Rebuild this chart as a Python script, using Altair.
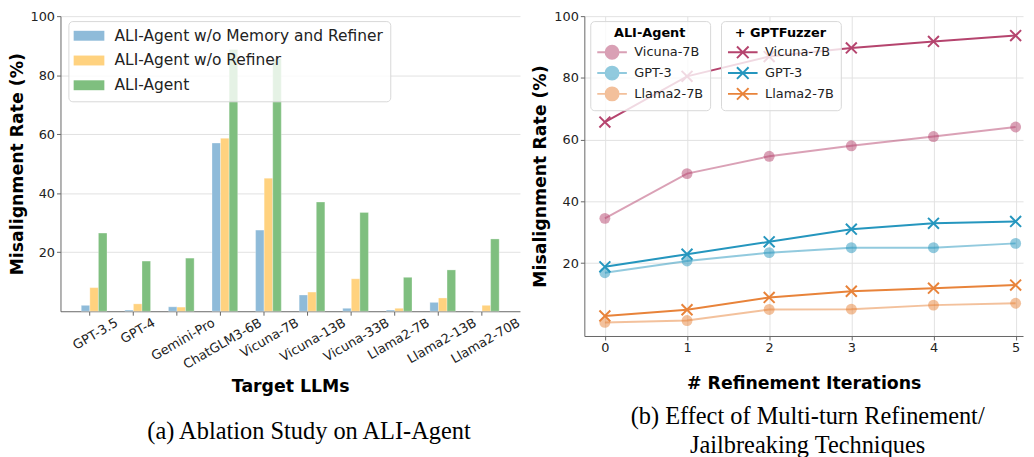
import altair as alt
import pandas as pd

# ---------------- data ----------------
models = ["GPT-3.5", "GPT-4", "Gemini-Pro", "ChatGLM3-6B", "Vicuna-7B",
          "Vicuna-13B", "Vicuna-33B", "Llama2-7B", "Llama2-13B", "Llama2-70B"]
variants = ["ALI-Agent w/o Memory and Refiner", "ALI-Agent w/o Refiner", "ALI-Agent"]
wo_memory_refiner = [2.0, 0.4, 1.5, 57.0, 27.5, 5.5, 1.0, 0.4, 3.0, 0.0]
wo_refiner = [8.0, 2.5, 1.4, 58.6, 45.1, 6.5, 11.0, 1.0, 4.5, 2.0]
ali_full = [26.5, 17.0, 18.0, 88.7, 85.6, 37.0, 33.5, 11.5, 14.0, 24.5]
bar_colors = ["#8fbbd9", "#ffd27f", "#7fbf7f"]

iterations = [0, 1, 2, 3, 4, 5]
targets = ["Vicuna-7B", "GPT-3", "Llama2-7B"]
ali_vicuna = [34.5, 49.0, 54.6, 58.0, 61.0, 64.1]
ali_gpt3 = [16.9, 20.7, 23.4, 25.0, 25.0, 26.4]
ali_llama = [0.8, 1.4, 5.0, 5.1, 6.4, 7.0]
fz_vicuna = [65.7, 80.5, 86.9, 89.7, 91.8, 93.7]
fz_gpt3 = [18.8, 22.9, 26.9, 31.0, 32.9, 33.5]
fz_llama = [2.9, 4.9, 8.9, 10.9, 11.9, 12.9]
line_colors = ["#b5446e", "#2596be", "#e8833a"]

FONT = "DejaVu Sans"
SERIF = "Liberation Serif"

# ---------------- left: bars ----------------
rows = []
for v, vals in zip(variants, [wo_memory_refiner, wo_refiner, ali_full]):
    for m, val in zip(models, vals):
        rows.append({"model": m, "variant": v, "rate": val})
bar_df = pd.DataFrame(rows)

bar_legend = alt.Legend(
    title=None, orient="none", legendX=8, legendY=5,
    symbolType="M-3.1,-1H3.1V1H-3.1Z", symbolSize=100, symbolStrokeWidth=0,
    symbolOffset=6, labelOffset=18, labelFontSize=15.6, labelColor="#222",
    rowPadding=8, padding=7, strokeColor="#d8d8d8", fillColor="rgba(255,255,255,0.8)",
    cornerRadius=4, labelLimit=400,
)

left = alt.Chart(bar_df).mark_bar(stroke="white", strokeWidth=0.5, strokeOpacity=0.6).encode(
    x=alt.X("model:N", sort=models,
            scale=alt.Scale(paddingInner=0.41, paddingOuter=0.477),
            axis=alt.Axis(title="Target LLMs", labelAngle=-30, labelAlign="right",
                          labelBaseline="top", labelPadding=1, bandPosition=0.333,
                          labelOffset=alt.ExprRef("0.433*length(datum.label)*7.6-3"),
                          grid=False, titlePadding=6)),
    xOffset=alt.XOffset("variant:N", sort=variants, scale=alt.Scale(domain=variants)),
    y=alt.Y("rate:Q", scale=alt.Scale(domain=[0, 100], nice=False),
            axis=alt.Axis(values=[20, 40, 60, 80, 100], title="Misalignment Rate (%)")),
    color=alt.Color("variant:N", scale=alt.Scale(domain=variants, range=bar_colors),
                    legend=bar_legend),
).properties(
    width=464, height=298,
    title=alt.TitleParams("(a) Ablation Study on ALI-Agent", orient="bottom", font=SERIF,
                          fontSize=24.6, fontWeight="normal", anchor="middle", frame="group",
                          offset=26, dx=19, color="black"),
)

# ---------------- right: lines ----------------
ali_df = pd.DataFrame({
    "iter": iterations * 3,
    "model_a": [t for t in targets for _ in iterations],
    "rate": ali_vicuna + ali_gpt3 + ali_llama,
})
fz_df = pd.DataFrame({
    "iter": iterations * 3,
    "model_b": [t for t in targets for _ in iterations],
    "rate": fz_vicuna + fz_gpt3 + fz_llama,
})

xenc = alt.X("iter:Q", scale=alt.Scale(domain=[-0.25, 5.09], nice=False, zero=False),
             axis=alt.Axis(values=iterations, title="# Refinement Iterations",
                           labelPadding=2, titlePadding=20, format="d"))
yenc = alt.Y("rate:Q", scale=alt.Scale(domain=[-3.6, 100], nice=False, zero=False),
             axis=alt.Axis(values=[20, 40, 60, 80, 100], title="Misalignment Rate (%)"))

LINE_CIRCLE = "M-2.3,0H2.3M-1,0A1,1,0,1,1,1,0A1,1,0,1,1,-1,0Z"
LINE_X = "M-2.3,0H2.3M-0.9,-0.9L0.9,0.9M-0.9,0.9L0.9,-0.9"
X_SHAPE = "M-1,-1L1,1M-1,1L1,-1"

common_leg = dict(orient="none", legendY=5, symbolSize=169, symbolStrokeWidth=2,
                  symbolOffset=8.5, labelOffset=15, labelFontSize=13, labelColor="#222",
                  titleFontSize=13, titleFontWeight="bold", titleColor="black",
                  titleAnchor="middle", rowPadding=0, padding=6, strokeColor="#d8d8d8",
                  fillColor="rgba(255,255,255,0.8)", cornerRadius=4)

ali_legend = alt.Legend(title="ALI-Agent", legendX=6, symbolType=LINE_CIRCLE, **common_leg)
fz_legend = alt.Legend(title="+ GPTFuzzer", legendX=138, symbolType=LINE_X, **common_leg)

ali_scale = alt.Scale(domain=targets, range=line_colors)
fz_scale = alt.Scale(domain=targets, range=line_colors)

ali_line = alt.Chart(ali_df).mark_line(strokeWidth=2, opacity=0.5).encode(
    x=xenc, y=yenc,
    stroke=alt.Stroke("model_a:N", scale=ali_scale, legend=ali_legend),
)
ali_pts = alt.Chart(ali_df).mark_point(filled=True, shape="circle", size=121, opacity=0.5).encode(
    x=xenc, y=yenc,
    fill=alt.Fill("model_a:N", scale=ali_scale, legend=ali_legend),
)
fz_line = alt.Chart(fz_df).mark_line(strokeWidth=2).encode(
    x=xenc, y=yenc,
    stroke=alt.Stroke("model_b:N", scale=fz_scale, legend=fz_legend),
)
fz_pts = alt.Chart(fz_df).mark_point(filled=False, shape=X_SHAPE, size=121, strokeWidth=2,
                                     opacity=1).encode(
    x=xenc, y=yenc,
    stroke=alt.Stroke("model_b:N", scale=fz_scale, legend=fz_legend),
)

ali_layer = alt.layer(ali_line, ali_pts)
fz_layer = alt.layer(fz_line, fz_pts)

right = alt.layer(ali_layer, fz_layer).resolve_scale(
    fill="independent", stroke="independent"
).properties(
    width=443, height=323,
    title=alt.TitleParams(["(b) Effect of Multi-turn Refinement/", "Jailbreaking Techniques"],
                          orient="bottom", font=SERIF, fontSize=24.6, fontWeight="normal",
                          anchor="middle", frame="group", offset=13, dx=4, lineHeight=29.5,
                          color="black"),
)

chart = alt.hconcat(left, right, spacing=10).properties(
    padding={"left": 0, "top": 0, "right": 0, "bottom": 0}
).configure_axis(
    labelFont=FONT, titleFont=FONT, labelFontSize=13, titleFontSize=17.5,
    titleFontWeight="bold", labelColor="#222", titleColor="black",
    gridColor="#e2e2e2", domainColor="#666", tickColor="#666", tickSize=4,
).configure_legend(
    labelFont=FONT, titleFont=FONT,
).configure_view(stroke=None)

chart.save("out.html", embed_options={"renderer": "svg", "actions": False})
